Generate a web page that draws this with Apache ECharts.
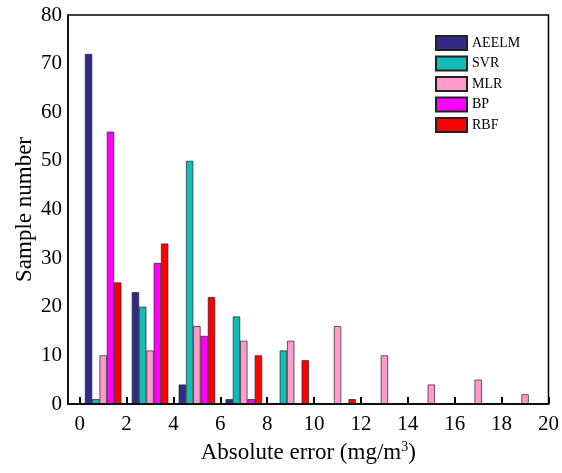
<!DOCTYPE html>
<html>
<head>
<meta charset="utf-8">
<script src="https://cdn.jsdelivr.net/npm/echarts@6/dist/echarts.min.js"></script>
<style>
  html, body { margin: 0; padding: 0; background: #fff; }
  #chart { width: 562px; height: 473px; }
</style>
</head>
<body>
<div id="chart"></div>
<script>
// bin centres (mg/m3), one group of bars per bin
var binCenters = [1, 3, 5, 7, 9, 11, 13, 15, 17, 19];
var xTicks = [0, 2, 4, 6, 8, 10, 12, 14, 16, 18, 20];

var aeelm = [72, 23, 4, 1, 0, 0, 0, 0, 0, 0];
var svr   = [1, 20, 50, 18, 11, 0, 0, 0, 0, 0];
var mlr   = [10, 11, 16, 13, 13, 16, 10, 4, 5, 2];
var bp    = [56, 29, 14, 1, 0, 0, 0, 0, 0, 0];
var rbf   = [25, 33, 22, 10, 9, 1, 0, 0, 0, 0];

var names  = ['AEELM', 'SVR', 'MLR', 'BP', 'RBF'];
var colors = ['#332a86', '#12bdb7', '#ff9acb', '#ff00ff', '#ff0000'];
var values = [aeelm, svr, mlr, bp, rbf];

var xMin = -0.5, xMax = 20, step = 0.5;
var font = 'Liberation Serif, Times New Roman, serif';

// x axis as evenly spaced slots every 0.5 units, from -0.5 to 20
var slots = [];
for (var s = xMin; s <= xMax + 1e-9; s += step) slots.push(s);

function isTick(idx) {
    return xTicks.indexOf(slots[idx]) >= 0;
}

function slotData(arr) {
    var out = slots.map(function () { return null; });
    arr.forEach(function (v, i) {
        var idx = Math.round((binCenters[i] - xMin) / step);
        out[idx] = v === 0 ? null : v;
    });
    return out;
}

var myChart = echarts.init(document.getElementById('chart'));
myChart.setOption({
    animation: false,
    textStyle: { fontFamily: font },
    grid: {
        left: 68, right: 12, top: 15, bottom: 69,
        show: true, borderColor: '#000', borderWidth: 1.5
    },
    legend: {
        orient: 'vertical',
        left: 430, top: 30,
        icon: 'rect',
        itemWidth: 31, itemHeight: 14, itemGap: 4.5,
        textStyle: { fontFamily: font, fontSize: 14, color: '#000' },
        data: names
    },
    xAxis: {
        type: 'category',
        boundaryGap: false,
        data: slots,
        z: 10,
        name: 'Absolute error (mg/m{sup|3})',
        nameLocation: 'middle',
        nameGap: 36,
        nameTextStyle: {
            fontFamily: font, fontSize: 23, color: '#000',
            rich: { sup: { fontFamily: font, fontSize: 14, verticalAlign: 'bottom', padding: [0, 0, 11, 0], color: '#000' } }
        },
        axisLine: { onZero: false, lineStyle: { color: '#000', width: 1.5 } },
        axisTick: { show: true, inside: true, length: 7, interval: isTick, lineStyle: { color: '#000', width: 2 } },
        axisLabel: { fontFamily: font, fontSize: 21, color: '#000', margin: 10, interval: isTick },
        splitLine: { show: false }
    },
    yAxis: {
        type: 'value',
        min: 0, max: 80, interval: 10,
        name: 'Sample number',
        nameLocation: 'middle',
        nameGap: 32,
        nameMoveOverlap: false,
        nameTextStyle: { fontFamily: font, fontSize: 23, color: '#000' },
        axisLine: { show: true, onZero: false, lineStyle: { color: '#000', width: 1.5 } },
        axisTick: { inside: true, length: 7, lineStyle: { color: '#000', width: 2 } },
        axisLabel: { fontFamily: font, fontSize: 21, color: '#000', margin: 6 },
        splitLine: { show: false }
    },
    series: names.map(function (n, k) {
        return {
            name: n,
            type: 'bar',
            barWidth: 7.3,
            barGap: '0%',
            itemStyle: { color: colors[k], borderColor: '#222', borderWidth: 0.7 },
            data: slotData(values[k])
        };
    })
});
</script>
</body>
</html>
